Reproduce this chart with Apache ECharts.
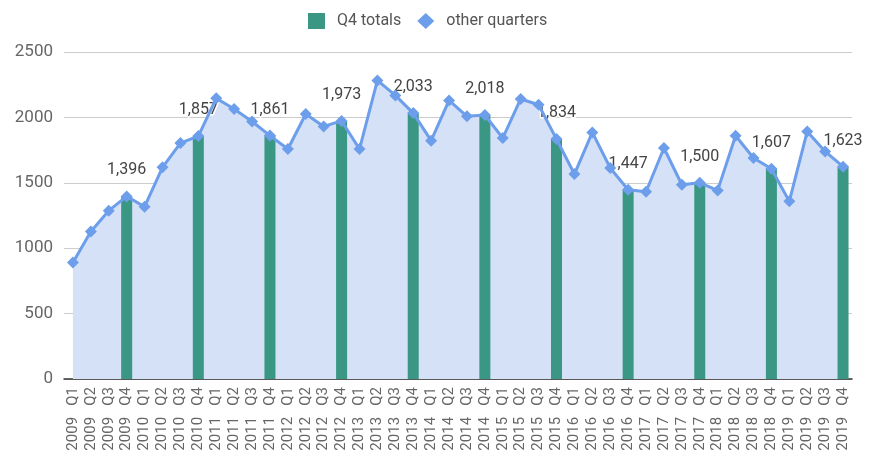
<!DOCTYPE html>
<html>
<head>
<meta charset="utf-8">
<script src="https://cdn.jsdelivr.net/npm/echarts@6/dist/echarts.min.js"></script>
<style>
  html, body { margin: 0; padding: 0; background: #fff; }
  #chart { width: 877px; height: 458px; }
</style>
</head>
<body>
<div id="chart"></div>
<script>
// quarters 2009 Q1 .. 2019 Q4
const years = ['2009','2010','2011','2012','2013','2014','2015','2016','2017','2018','2019'];
const quarters = ['Q1','Q2','Q3','Q4'];

// all quarterly totals (line + area)
const allQuarters = [
  890, 1128, 1287, 1396,
  1317, 1618, 1804, 1857,
  2146, 2064, 1969, 1861,
  1758, 2026, 1931, 1973,
  1758, 2283, 2168, 2033,
  1822, 2130, 2008, 2018,
  1842, 2141, 2097, 1834,
  1567, 1885, 1613, 1447,
  1432, 1766, 1485, 1500,
  1442, 1860, 1690, 1607,
  1358, 1893, 1740, 1623
];

const categories = [];
years.forEach(y => quarters.forEach(q => categories.push(y + '   ' + q)));

// Q4 bars only
const q4Totals = allQuarters.map((v, i) => (i % 4 === 3 ? v : '-'));

const chart = echarts.init(document.getElementById('chart'));

const option = {
  animation: false,
  textStyle: { fontFamily: 'Roboto' },
  legend: {
    top: 8,
    left: 303,
    itemWidth: 17,
    itemHeight: 16,
    itemGap: 16,
    textStyle: { color: '#555', fontSize: 16, padding: [0, 0, 0, 7] },
    data: [
      { name: 'Q4 totals', icon: 'rect' },
      { name: 'other quarters', icon: 'diamond' }
    ]
  },
  grid: {
    left: 64, right: 25, top: 52, bottom: 79,
    outerBoundsMode: 'none'
  },
  xAxis: {
    type: 'category',
    data: categories,
    axisLine: { lineStyle: { color: '#333', width: 1.5 } },
    axisTick: { show: false },
    axisLabel: {
      interval: 0,
      rotate: 90,
      color: '#666',
      fontSize: 15,
      margin: 8
    }
  },
  yAxis: {
    type: 'value',
    min: 0,
    max: 2500,
    interval: 500,
    axisLine: { show: false },
    axisTick: { show: false },
    axisLabel: { color: '#666', fontSize: 17, margin: 11, formatter: v => String(v) },
    splitLine: { lineStyle: { color: '#ccc', width: 1 } }
  },
  series: [
    {
      name: 'area',
      type: 'line',
      data: allQuarters,
      symbol: 'none',
      lineStyle: { width: 0 },
      areaStyle: { color: '#d5e1f7', opacity: 1 },
      z: 1,
      silent: true
    },
    {
      name: 'Q4 totals',
      type: 'bar',
      data: q4Totals,
      barWidth: 11,
      barGap: '-100%',
      itemStyle: { color: '#3a9784' },
      z: 2,
      label: {
        show: true,
        position: 'top',
        distance: 18,
        color: '#444',
        fontSize: 16,
        textBorderColor: '#fff',
        textBorderWidth: 3,
        formatter: p => Number(p.value).toLocaleString('en-US')
      }
    },
    {
      name: 'other quarters',
      type: 'line',
      data: allQuarters,
      symbol: 'diamond',
      symbolSize: 12,
      itemStyle: { color: '#6d9eeb' },
      lineStyle: { color: '#6d9eeb', width: 3 },
      z: 3
    }
  ]
};

chart.setOption(option);
</script>
</body>
</html>
